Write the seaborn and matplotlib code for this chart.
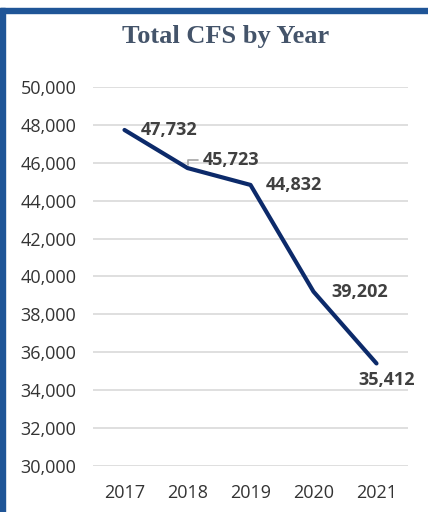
import matplotlib
matplotlib.use("Agg")
import matplotlib.pyplot as plt
from matplotlib.patches import Rectangle
import pandas as pd
import seaborn as sns

# data
years = ["2017", "2018", "2019", "2020", "2021"]
total_cfs = [47732, 45723, 44832, 39202, 35412]
y_ticks = [30000, 32000, 34000, 36000, 38000, 40000, 42000, 44000, 46000, 48000, 50000]

df = pd.DataFrame({"Year": years, "CFS": total_cfs})

sns.set_theme(style="white")
plt.rcParams["font.family"] = ["Open Sans", "DejaVu Sans"]

W, H = 428, 512
fig = plt.figure(figsize=(W / 100, H / 100), dpi=100)
fig.patch.set_facecolor("white")

# frame edges (top + left) like the dashboard tile
fig.patches.append(Rectangle((0, 1 - 13 / H), 1, 5 / H, transform=fig.transFigure,
                             color="#1F5597", zorder=0))
fig.patches.append(Rectangle((0, 0), 5 / W, 1 - 8 / H, transform=fig.transFigure,
                             color="#1F5597", zorder=0))

ax = fig.add_axes([93 / W, (H - 466) / H, (408 - 93) / W, (466 - 87) / H])

sns.lineplot(data=df, x="Year", y="CFS", ax=ax, color="#0C2A6A", linewidth=3,
             solid_capstyle="round", solid_joinstyle="round", zorder=3)

ax.set_xlim(-0.5, len(years) - 0.5)
ax.set_ylim(30000, 50000)
ax.set_yticks(y_ticks)
ax.set_yticklabels([f"{v:,}" for v in y_ticks])
ax.yaxis.grid(True, color="#D9D9D9", linewidth=1.2)
ax.xaxis.grid(False)
ax.set_axisbelow(True)
for s in ax.spines.values():
    s.set_visible(False)
ax.tick_params(axis="y", length=0, pad=12, labelsize=13, labelcolor="#333333")
ax.tick_params(axis="x", length=0, pad=13, labelsize=13, labelcolor="#333333")
ax.set_xlabel("")
ax.set_ylabel("")

# data labels (offsets in points)
label_offsets = [(12, 0, "left", "center"),
                 (11, 6, "left", "center"),
                 (11, 0, "left", "center"),
                 (13, 0, "left", "center"),
                 (7, -12, "center", "center")]
for i, (yr, val) in enumerate(zip(years, total_cfs)):
    dx, dy, ha, va = label_offsets[i]
    kw = {}
    if i == 1:
        kw["arrowprops"] = dict(arrowstyle="-", color="#A6A6A6", lw=1.2,
                                connectionstyle="angle,angleA=180,angleB=90,rad=0",
                                relpos=(0, 0.5), shrinkA=1, shrinkB=2)
    ax.annotate(f"{val:,}", xy=(i, val), xytext=(dx, dy), textcoords="offset points",
                ha=ha, va=va, fontsize=13, fontweight="bold", color="#404040", **kw)

fig.text(226 / W, 1 - 36 / H, "Total CFS by Year", ha="center", va="center",
         fontsize=19, fontweight="bold", color="#44546A", family="Liberation Serif")

fig.savefig("out.png", dpi=100)
